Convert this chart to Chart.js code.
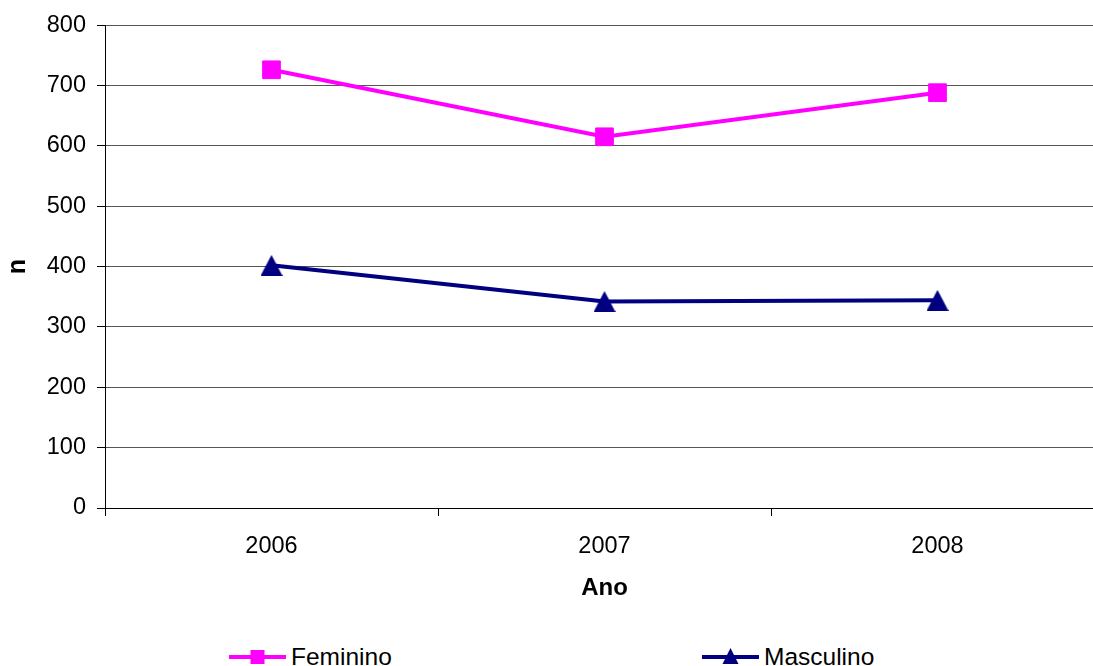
<!DOCTYPE html>
<html>
<head>
<meta charset="utf-8">
<script src="https://cdn.jsdelivr.net/npm/chart.js@4/dist/chart.umd.min.js"></script>
<style>
  html, body { margin: 0; padding: 0; background: #fff; overflow: hidden; }
  #wrap { position: relative; width: 1093px; height: 666px; overflow: hidden; }
  #chart { position: absolute; left: 0; top: 0; }
  #legend { position: absolute; left: 0; top: 620px; }
</style>
</head>
<body>
<div id="wrap">
  <canvas id="chart" width="1119" height="620" style="width:1119px;height:620px"></canvas>
  <svg id="legend" width="1093" height="46" xmlns="http://www.w3.org/2000/svg"></svg>
</div>
<script>
// Annual counts by sex
const years = ['2006', '2007', '2008'];
const feminino = [726, 615, 688];
const masculino = [402, 342, 344];
const yTicks = [0, 100, 200, 300, 400, 500, 600, 700, 800];

const seriesNames = ['Feminino', 'Masculino'];
const seriesColors = ['#FF00FF', '#000080'];

const FONT = '"Liberation Sans", Arial, sans-serif';

// Filled triangle marker (apex up), drawn once into a small canvas
function triangleMarker(w, h, color) {
  const c = document.createElement('canvas');
  c.width = w; c.height = h;
  const g = c.getContext('2d');
  g.fillStyle = color;
  g.beginPath();
  g.moveTo(w / 2, 0);
  g.lineTo(w, h);
  g.lineTo(0, h);
  g.closePath();
  g.fill();
  return c;
}

const ctx = document.getElementById('chart').getContext('2d');
new Chart(ctx, {
  type: 'line',
  data: {
    labels: years,
    datasets: [
      {
        label: seriesNames[0],
        data: feminino,
        borderColor: seriesColors[0],
        backgroundColor: seriesColors[0],
        borderWidth: 4,
        tension: 0,
        pointStyle: 'rect',
        pointRadius: 12.5,
        pointBorderWidth: 1,
        pointBorderColor: seriesColors[0],
        pointBackgroundColor: seriesColors[0]
      },
      {
        label: seriesNames[1],
        data: masculino,
        borderColor: seriesColors[1],
        backgroundColor: seriesColors[1],
        borderWidth: 4,
        tension: 0,
        pointStyle: triangleMarker(22, 21, seriesColors[1]),
        pointRadius: 11
      }
    ]
  },
  options: {
    responsive: false,
    animation: false,
    devicePixelRatio: 1,
    layout: { padding: { top: 23, right: 0, bottom: 0, left: 0 } },
    plugins: {
      legend: { display: false },
      tooltip: { enabled: false }
    },
    scales: {
      x: {
        offset: true,
        grid: {
          display: true,
          offset: true,
          drawOnChartArea: false,
          drawTicks: true,
          tickLength: 8,
          tickColor: '#000'
        },
        border: { display: true, color: '#000', width: 1 },
        ticks: {
          color: '#000',
          padding: 16,
          font: { family: FONT, size: 23.5 }
        },
        title: {
          display: true,
          text: 'Ano',
          color: '#000',
          font: { family: FONT, size: 24, weight: 'bold' },
          padding: { top: 0, bottom: 17 }
        },
        afterFit: (scale) => { scale.height = 112; }
      },
      y: {
        min: 0,
        max: 800,
        afterBuildTicks: (scale) => { scale.ticks = yTicks.map(v => ({ value: v })); },
        grid: {
          color: '#555',
          lineWidth: 1,
          drawTicks: true,
          tickLength: 8,
          tickColor: '#000'
        },
        border: { display: true, color: '#000', width: 1 },
        ticks: {
          color: '#000',
          padding: 11,
          font: { family: FONT, size: 23.5 }
        },
        title: {
          display: true,
          text: 'n',
          color: '#000',
          font: { family: FONT, size: 25, weight: 'bold' },
          padding: { top: 3, bottom: 0 }
        },
        afterFit: (scale) => { scale.width = 105; }
      }
    }
  }
});

// Legend row beneath the plot
(function buildLegend() {
  const svg = document.getElementById('legend');
  const NS = 'http://www.w3.org/2000/svg';
  const items = [
    { x0: 229, name: seriesNames[0], color: seriesColors[0], marker: 'square' },
    { x0: 702, name: seriesNames[1], color: seriesColors[1], marker: 'triangle' }
  ];
  const cy = 37; // line centre inside the legend strip
  items.forEach(it => {
    const line = document.createElementNS(NS, 'line');
    line.setAttribute('x1', it.x0); line.setAttribute('x2', it.x0 + 57);
    line.setAttribute('y1', cy); line.setAttribute('y2', cy);
    line.setAttribute('stroke', it.color); line.setAttribute('stroke-width', 4);
    svg.appendChild(line);
    const mx = it.x0 + 28.5;
    if (it.marker === 'square') {
      const r = document.createElementNS(NS, 'rect');
      r.setAttribute('x', mx - 7); r.setAttribute('y', cy - 7);
      r.setAttribute('width', 14); r.setAttribute('height', 14);
      r.setAttribute('fill', it.color);
      svg.appendChild(r);
    } else {
      const p = document.createElementNS(NS, 'polygon');
      p.setAttribute('points', `${mx},${cy - 9} ${mx + 8},${cy + 7} ${mx - 8},${cy + 7}`);
      p.setAttribute('fill', it.color);
      svg.appendChild(p);
    }
    const t = document.createElementNS(NS, 'text');
    t.setAttribute('x', it.x0 + 62);
    t.setAttribute('y', cy + 8);
    t.setAttribute('font-family', 'Liberation Sans, Arial, sans-serif');
    t.setAttribute('font-size', 24.5);
    t.setAttribute('fill', '#000');
    t.textContent = it.name;
    svg.appendChild(t);
  });
})();
</script>
</body>
</html>
